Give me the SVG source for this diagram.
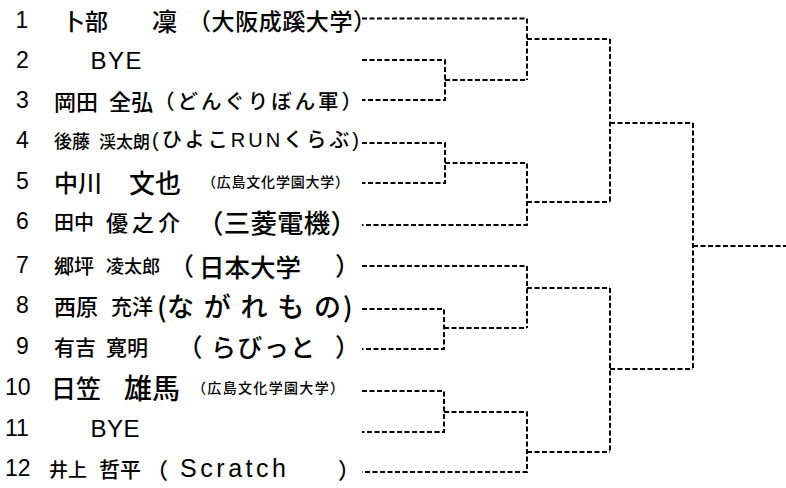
<svg xmlns="http://www.w3.org/2000/svg" width="786" height="488" viewBox="0 0 786 488">
<style>
text{fill:#000;dominant-baseline:central}
.n{font-family:"Liberation Sans",Arial,sans-serif}
.d{font-size:23px}
.j{font-family:"Noto Sans CJK JP",sans-serif;font-weight:500}
.l{font-family:"Liberation Sans","Noto Sans CJK JP",sans-serif;font-weight:500}
.c path{fill:none;stroke:#000;stroke-width:2;stroke-dasharray:5 2.5}
</style>
<rect width="786" height="488" fill="#fff"/>
<g id="p1"><text class="n d" x="15.5" y="20">1</text><text class="j" x="62" y="20" font-size="23">卜部</text><text class="j" x="152" y="20" font-size="25">凜</text><text class="j" x="188" y="20" font-size="23" textLength="188">（大阪成蹊大学）</text></g>
<g id="p2"><text class="n d" x="16" y="60">2</text><text class="n" x="90.5" y="60" font-size="24" textLength="51">BYE</text></g>
<g id="p3"><text class="n d" x="16" y="100">3</text><text class="j" x="54" y="100" font-size="22">岡田</text><text class="j" x="109" y="100" font-size="22">全弘</text><text class="j" x="154" y="100" font-size="20.5" textLength="208">（どんぐりぼん軍）</text></g>
<g id="p4"><text class="n d" x="16" y="140">4</text><text class="j" x="54" y="140" font-size="18">後藤</text><text class="j" x="99" y="140" font-size="17">渓太朗</text><text class="l" x="152" y="140" font-size="20" textLength="207">(ひよこRUNくらぶ)</text></g>
<g id="p5"><text class="n d" x="16" y="181">5</text><text class="j" x="54" y="181" font-size="24">中川</text><text class="j" x="129" y="181" font-size="26">文也</text><text class="j" x="202" y="181" font-size="14" textLength="147">（広島文化学園大学）</text></g>
<g id="p6"><text class="n d" x="16" y="221">6</text><text class="j" x="54" y="221" font-size="20">田中</text><text class="j" x="106" y="221" font-size="22" textLength="74">優之介</text><text class="j" x="197" y="221" font-size="26.5" textLength="160">（三菱電機）</text></g>
<g id="p7"><text class="n d" x="16" y="265">7</text><text class="j" x="54" y="265" font-size="20">郷坪</text><text class="j" x="106" y="265" font-size="18">凌太郎</text><text class="j" x="169" y="265" font-size="25">（</text><text class="j" x="199" y="265" font-size="25.5">日本大学</text><text class="j" x="335" y="265" font-size="25">）</text></g>
<g id="p8"><text class="n d" x="16" y="305">8</text><text class="j" x="54" y="305" font-size="22">西原</text><text class="j" x="111" y="305" font-size="21">充洋</text><text class="j" x="157" y="305" font-size="27">(</text><text class="j" x="167" y="305" font-size="27" textLength="174">ながれもの</text><text class="j" x="343" y="305" font-size="27">)</text></g>
<g id="p9"><text class="n d" x="16" y="346">9</text><text class="j" x="54" y="346" font-size="21">有吉</text><text class="j" x="106" y="346" font-size="21">寛明</text><text class="j" x="177.5" y="346" font-size="25">（</text><text class="j" x="211" y="346" font-size="25" textLength="104">らびっと</text><text class="j" x="335" y="346" font-size="25">）</text></g>
<g id="p10"><text class="n d" x="5" y="387">10</text><text class="j" x="51" y="387" font-size="25">日笠</text><text class="j" x="124" y="387" font-size="28">雄馬</text><text class="j" x="192" y="387" font-size="14" textLength="152">（広島文化学園大学）</text></g>
<g id="p11"><text class="n d" x="5" y="428">11</text><text class="n" x="90.5" y="428" font-size="24" textLength="49">BYE</text></g>
<g id="p12"><text class="n d" x="5" y="468">12</text><text class="j" x="49" y="468" font-size="19">井上</text><text class="j" x="99" y="468" font-size="21">哲平</text><text class="j" x="146" y="468" font-size="22">（</text><text class="n" x="180" y="468" font-size="25" textLength="106">Scratch</text><text class="j" x="338" y="468" font-size="22">）</text></g>
<g id="connectors" class="c">
<path d="M362 18.5H527V80"/>
<path d="M362 60H445V100H362"/>
<path d="M445 80H527"/>
<path d="M527 39H610"/>
<path d="M362 143H445V183H362"/>
<path d="M445 163H527V225H362"/>
<path d="M527 202H610"/>
<path d="M610 39V202"/>
<path d="M610 123H693"/>
<path d="M362 266H527V328"/>
<path d="M362 309H444V349H362"/>
<path d="M444 328H527"/>
<path d="M527 288H610"/>
<path d="M362 391H444V432H362"/>
<path d="M444 412H527V472H362"/>
<path d="M527 452H610"/>
<path d="M610 288V452"/>
<path d="M610 369H693"/>
<path d="M693 123V369"/>
<path d="M693 246H786"/>
</g>
</svg>
